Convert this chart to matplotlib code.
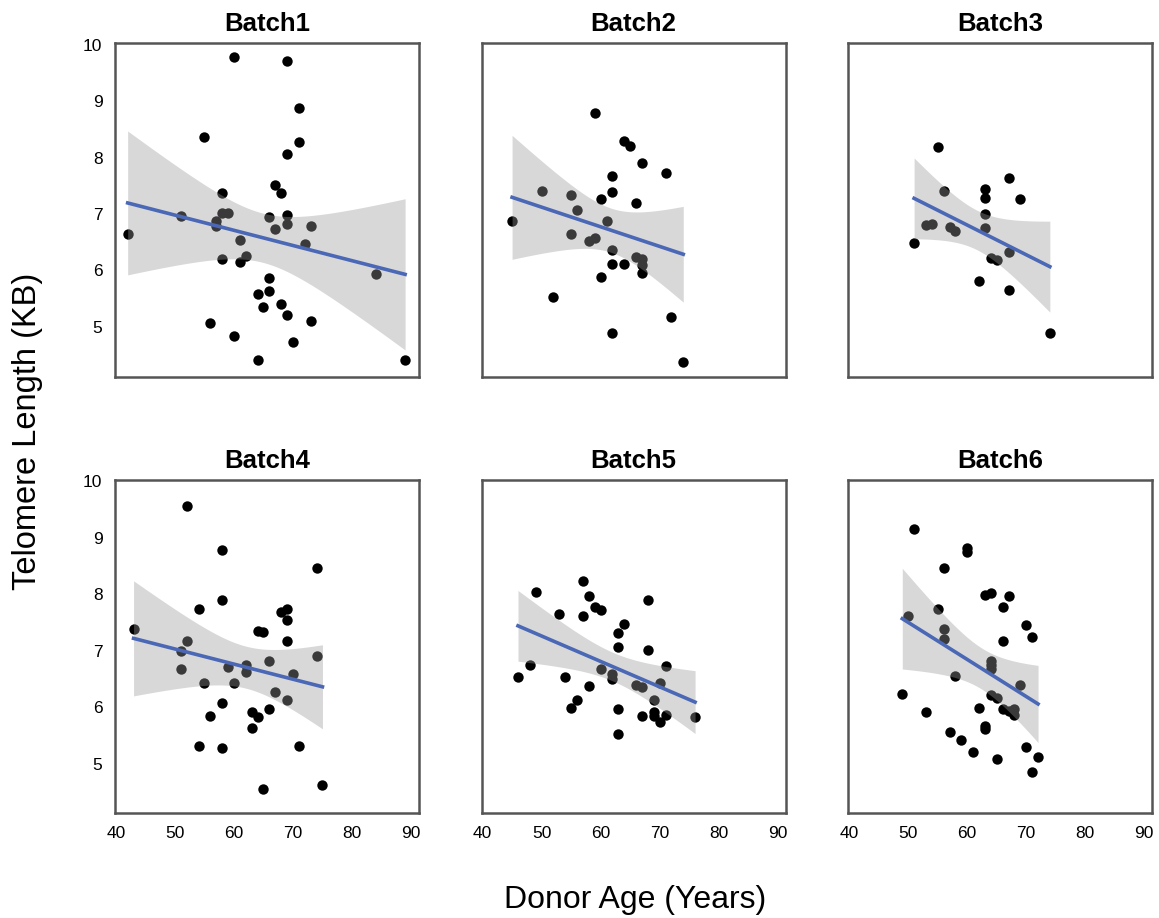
import matplotlib

matplotlib.use("Agg")
import matplotlib.pyplot as plt
import numpy as np

plt.rcParams["font.family"] = ["Liberation Sans", "DejaVu Sans"]

BATCHES = ["Batch1", "Batch2", "Batch3", "Batch4", "Batch5", "Batch6"]

age_b1 = [42, 51, 55, 56, 58, 58, 59, 57, 57, 58, 60, 60, 61, 61, 62, 64, 64, 65, 66,
          66, 66, 67, 67, 68, 68, 69, 69, 69, 69, 69, 70, 71, 71, 72, 73, 73, 84, 89]
tl_b1 = [6.65, 6.97, 8.37, 5.07, 7.38, 7.01, 7.01, 6.88, 6.78, 6.21, 9.78, 4.84, 6.54,
         6.15, 6.26, 5.58, 4.42, 5.35, 5.86, 5.63, 6.94, 7.52, 6.74, 7.38, 5.40, 9.71,
         8.06, 6.98, 6.83, 5.21, 4.74, 8.87, 8.27, 6.47, 6.78, 5.10, 5.93, 4.41]

age_b2 = [45, 50, 52, 55, 55, 56, 58, 59, 59, 60, 60, 61, 62, 62, 62, 62, 62, 64, 64,
          65, 66, 66, 67, 67, 67, 67, 71, 72, 74]
tl_b2 = [6.88, 7.40, 5.53, 7.33, 6.64, 7.07, 6.53, 6.57, 8.78, 7.26, 5.89, 6.87, 7.67,
         7.39, 6.37, 6.12, 4.90, 8.30, 6.12, 8.21, 7.20, 6.24, 7.90, 6.20, 6.09, 5.96,
         7.73, 5.17, 4.38]

age_b3 = [51, 53, 54, 55, 56, 57, 58, 62, 63, 63, 63, 63, 64, 65, 67, 67, 67, 69, 74]
tl_b3 = [6.48, 6.81, 6.82, 8.19, 7.40, 6.77, 6.70, 5.82, 7.45, 7.28, 7.00, 6.76, 6.22,
         6.18, 7.63, 6.33, 5.65, 7.26, 4.89]

age_b4 = [43, 51, 51, 52, 52, 54, 54, 55, 56, 58, 58, 58, 58, 59, 60, 62, 62, 63, 63,
          64, 64, 65, 65, 66, 66, 67, 68, 69, 69, 69, 69, 70, 71, 74, 74, 75]
tl_b4 = [7.38, 7.00, 6.68, 9.56, 7.18, 7.74, 5.32, 6.43, 5.85, 8.79, 7.89, 6.07, 5.28,
         6.71, 6.42, 6.75, 6.62, 5.91, 5.63, 7.35, 5.83, 7.33, 4.55, 6.81, 5.96, 6.26,
         7.68, 7.74, 7.55, 7.17, 6.12, 6.59, 5.32, 8.47, 6.91, 4.62]

age_b5 = [46, 48, 49, 53, 54, 55, 56, 57, 57, 58, 58, 59, 60, 60, 62, 62, 63, 63, 63,
          63, 64, 66, 67, 67, 68, 68, 69, 69, 69, 70, 70, 71, 71, 76]
tl_b5 = [6.53, 6.75, 8.04, 7.65, 6.53, 5.99, 6.12, 8.23, 7.61, 7.97, 6.38, 7.77, 7.72,
         6.67, 6.58, 6.49, 7.31, 7.06, 5.96, 5.52, 7.47, 6.40, 6.36, 5.85, 7.90, 7.02,
         6.13, 5.91, 5.85, 6.42, 5.73, 6.73, 5.87, 5.82]

age_b6 = [49, 50, 51, 53, 55, 56, 56, 56, 57, 58, 59, 60, 60, 61, 62, 63, 63, 63, 64,
          64, 64, 64, 64, 65, 65, 66, 66, 66, 67, 67, 68, 68, 69, 70, 70, 71, 71, 72]
tl_b6 = [6.24, 7.61, 9.15, 5.91, 7.74, 8.47, 7.39, 7.20, 5.56, 6.56, 5.42, 8.82, 8.74,
         5.21, 5.98, 7.98, 5.67, 5.61, 8.02, 6.82, 6.75, 6.68, 6.21, 6.16, 5.08, 7.78,
         7.17, 5.97, 7.97, 5.93, 5.97, 5.87, 6.39, 7.45, 5.30, 7.24, 4.85, 5.12]

AGES = [age_b1, age_b2, age_b3, age_b4, age_b5, age_b6]
TLS = [tl_b1, tl_b2, tl_b3, tl_b4, tl_b5, tl_b6]

X_TICKS = [40, 50, 60, 70, 80, 90]
Y_TICKS = [5, 6, 7, 8, 9, 10]


def t975(df):
    # Cornish-Fisher style approximation of the 97.5% t quantile
    z = 1.959964
    return z + (z**3 + z) / (4 * df) + (5 * z**5 + 16 * z**3 + 3 * z) / (96 * df**2)


def fit_ci(x, y):
    x = np.asarray(x, float)
    y = np.asarray(y, float)
    n = len(x)
    b, a = np.polyfit(x, y, 1)
    resid = y - (a + b * x)
    s = np.sqrt(np.sum(resid**2) / (n - 2))
    sxx = np.sum((x - x.mean())**2)
    grid = np.linspace(x.min(), x.max(), 100)
    pred = a + b * grid
    se = s * np.sqrt(1 / n + (grid - x.mean())**2 / sxx)
    h = t975(n - 2) * se
    return grid, pred, pred - h, pred + h


fig = plt.figure(figsize=(11.59, 9.18), dpi=100)
lefts = [0.0992, 0.4156, 0.7319]
bottoms = [0.5897, 0.1140]
W, H = 0.2623, 0.3630

for k, name in enumerate(BATCHES):
    r, c = divmod(k, 3)
    ax = fig.add_axes([lefts[c], bottoms[r], W, H])
    x, y = AGES[k], TLS[k]
    ax.scatter(x, y, s=56, color="black", linewidths=0, zorder=2)
    g, p, lo, hi = fit_ci(x, y)
    ax.fill_between(g, lo, hi, color="#999999", alpha=0.38, linewidth=0, zorder=3)
    ax.plot(g, p, color="#4a68b5", lw=2.6, zorder=4)

    ax.set_xlim(39.85, 91.35)
    ax.set_ylim(4.12, 10.02)
    ax.set_xticks(X_TICKS)
    ax.set_yticks(Y_TICKS)
    ax.tick_params(length=0, labelsize=12.5, pad=9)
    if c != 0:
        ax.set_yticklabels([])
    if r != 1:
        ax.set_xticklabels([])
    for sp in ax.spines.values():
        sp.set_color("#555555")
        sp.set_linewidth(1.8)
    ax.set_title(name, fontsize=18.5, fontweight="bold", pad=9)

fig.text(0.548, 0.003, "Donor Age (Years)", ha="center", va="bottom", fontsize=23)
fig.text(0.010, 0.53, "Telomere Length (KB)", ha="left", va="center",
         rotation=90, fontsize=23.5)

fig.savefig("out.png", dpi=100)
